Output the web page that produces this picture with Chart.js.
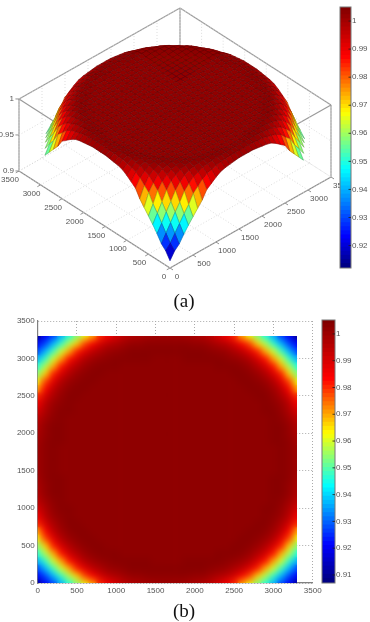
<!DOCTYPE html>
<html>
<head>
<meta charset="utf-8">
<title>Surface and map</title>
<script src="https://cdn.jsdelivr.net/npm/chart.js@4"></script>
<style>
    html, body { margin: 0; padding: 0; background: #fff; }
    body { position: relative; width: 370px; height: 622px; overflow: hidden; }
    canvas { position: absolute; filter: blur(0.35px); }
    #surface-chart { left: 0; top: 0; }
    #surface-bar { left: 320px; top: 0; }
    #map-chart { left: 0; top: 310px; }
    #map-bar { left: 315px; top: 310px; }
    .caption { position: absolute; width: 370px; left: -1px; text-align: center; font: 19px "Liberation Serif", serif; color: #111; }
</style>
</head>
<body>
<canvas id="surface-chart" width="370" height="295"></canvas>
<canvas id="surface-bar" width="50" height="295"></canvas>
<div class="caption" style="top:290px">(a)</div>
<canvas id="map-chart" width="322" height="290"></canvas>
<canvas id="map-bar" width="55" height="290"></canvas>
<div class="caption" style="top:600px">(b)</div>

<script>
// axis ticks
const axisTicks = [0, 500, 1000, 1500, 2000, 2500, 3000, 3500];
const heightTicks = [0.9, 0.95, 1];
const heightLabels = ['0.9', '0.95', '1'];
const surfaceBarTicks = [0.92, 0.93, 0.94, 0.95, 0.96, 0.97, 0.98, 0.99, 1];
const mapBarTicks = [0.91, 0.92, 0.93, 0.94, 0.95, 0.96, 0.97, 0.98, 0.99, 1];

// sample positions along one side, 0 to 3300
const gridSteps = [0, 100, 200, 300, 400, 500, 600, 700, 800, 900, 1000, 1100, 1200, 1300, 1400, 1500, 1600,
    1700, 1800, 1900, 2000, 2100, 2200, 2300, 2400, 2500, 2600, 2700, 2800, 2900, 3000, 3100, 3200, 3300];

// one quadrant of the field, in thousandths; the other three mirror it
const fieldRows = [
    [910, 920, 926, 936, 945, 953, 961, 969, 980, 985, 990, 994, 996, 997, 998, 999, 999],
    [920, 927, 937, 947, 957, 966, 978, 984, 991, 995, 997, 999, 1001, 1001, 1002, 1002, 1002],
    [926, 937, 948, 959, 969, 981, 988, 994, 997, 1000, 1001, 1002, 1003, 1003, 1003, 1003, 1003],
    [936, 947, 959, 970, 982, 990, 996, 999, 1001, 1002, 1003, 1003, 1003, 1003, 1003, 1002, 1002],
    [945, 957, 969, 982, 991, 996, 1000, 1002, 1003, 1003, 1003, 1002, 1002, 1002, 1002, 1002, 1002],
    [953, 966, 981, 990, 996, 1000, 1002, 1003, 1003, 1002, 1002, 1002, 1002, 1002, 1002, 1002, 1002],
    [961, 978, 988, 996, 1000, 1002, 1003, 1003, 1002, 1002, 1002, 1002, 1002, 1002, 1002, 1002, 1002],
    [969, 984, 994, 999, 1002, 1003, 1003, 1002, 1002, 1002, 1002, 1002, 1002, 1002, 1002, 1002, 1002],
    [980, 991, 997, 1001, 1003, 1003, 1002, 1002, 1002, 1002, 1002, 1002, 1002, 1002, 1002, 1002, 1002],
    [985, 995, 1000, 1002, 1003, 1002, 1002, 1002, 1002, 1002, 1002, 1002, 1002, 1002, 1002, 1002, 1002],
    [990, 997, 1001, 1003, 1003, 1002, 1002, 1002, 1002, 1002, 1002, 1002, 1002, 1002, 1002, 1002, 1002],
    [994, 999, 1002, 1003, 1002, 1002, 1002, 1002, 1002, 1002, 1002, 1002, 1002, 1002, 1002, 1002, 1002],
    [996, 1001, 1003, 1003, 1002, 1002, 1002, 1002, 1002, 1002, 1002, 1002, 1002, 1002, 1002, 1002, 1002],
    [997, 1001, 1003, 1003, 1002, 1002, 1002, 1002, 1002, 1002, 1002, 1002, 1002, 1002, 1002, 1002, 1002],
    [998, 1002, 1003, 1003, 1002, 1002, 1002, 1002, 1002, 1002, 1002, 1002, 1002, 1002, 1002, 1002, 1002],
    [999, 1002, 1003, 1002, 1002, 1002, 1002, 1002, 1002, 1002, 1002, 1002, 1002, 1002, 1002, 1002, 1002],
    [999, 1002, 1003, 1002, 1002, 1002, 1002, 1002, 1002, 1002, 1002, 1002, 1002, 1002, 1002, 1002, 1002]
];

// the surface stops short of its far left and right corners
const surfaceCut = 2960;

// colour scales: value at each stop, same colour list for both
const surfaceStops = [0.912, 0.923, 0.947, 0.967, 0.987, 1.005];
const mapStops = [0.907, 0.921, 0.943, 0.9625, 0.983, 1.005];
const stopColors = [[0, 0, 125], [0, 0, 255], [0, 255, 255], [255, 255, 0], [255, 0, 0], [125, 0, 0]];

const tickFont = { family: "'Liberation Sans Narrow', 'Liberation Sans', sans-serif", size: 8 };
const tickColor = '#555';

function fieldAt(i, j) {
    const n = gridSteps.length - 1;
    return fieldRows[Math.min(i, n - i)][Math.min(j, n - j)] / 1000;
}

function rgbFor(value, stops) {
    if (value <= stops[0]) return stopColors[0];
    for (let k = 1; k < stops.length; k++) {
        if (value <= stops[k]) {
            const t = (value - stops[k - 1]) / (stops[k] - stops[k - 1]);
            return stopColors[k].map((v, idx) => Math.round(stopColors[k - 1][idx] + (v - stopColors[k - 1][idx]) * t));
        }
    }
    return stopColors[stopColors.length - 1];
}

function colorFor(value, stops) {
    return `rgb(${rgbFor(value, stops).join(',')})`;
}

// fixed oblique view of the box
function project(x, y, z) {
    return {
        x: 170 + x * 161 / 3500 - y * 151 / 3500,
        y: 268 - x * 91 / 3500 - y * 97 / 3500 - (z - 0.9) * 720
    };
}

function segment(a, b, color, width, dash) {
    return {
        data: [project(a[0], a[1], a[2]), project(b[0], b[1], b[2])],
        showLine: true,
        fill: false,
        pointRadius: 0,
        borderColor: color,
        borderWidth: width,
        borderDash: dash || []
    };
}

function buildSurfaceDatasets() {
    const quads = [];
    const n = gridSteps.length - 1;
    for (let i = 0; i < n; i++) {
        for (let j = 0; j < n; j++) {
            const x0 = gridSteps[i], x1 = gridSteps[i + 1], y0 = gridSteps[j], y1 = gridSteps[j + 1];
            if (Math.abs(y1 - x0) > surfaceCut || Math.abs(x1 - y0) > surfaceCut) continue;
            const z00 = fieldAt(i, j), z10 = fieldAt(i + 1, j), z11 = fieldAt(i + 1, j + 1), z01 = fieldAt(i, j + 1);
            const mean = (z00 + z10 + z11 + z01) / 4;
            const edgeRgb = rgbFor(mean, surfaceStops).map(v => Math.round(v * 0.68));
            quads.push({
                depth: i + j,
                data: [project(x0, y0, z00), project(x1, y0, z10), project(x1, y1, z11), project(x0, y1, z01), project(x0, y0, z00)],
                showLine: true,
                fill: 'shape',
                tension: 0,
                pointRadius: 0,
                borderWidth: 0.6,
                borderColor: `rgb(${edgeRgb.join(',')})`,
                backgroundColor: colorFor(mean, surfaceStops)
            });
        }
    }
    // first dataset ends up on top, so nearest quads go first
    quads.sort((a, b) => a.depth - b.depth);

    const frame = [];
    const gridLine = '#d4d4d4';
    const edge = '#9a9a9a';
    axisTicks.forEach(t => {
        frame.push(segment([t, 0, 0.9], [t, 3500, 0.9], gridLine, 0.8, [1, 2]));
        frame.push(segment([0, t, 0.9], [3500, t, 0.9], gridLine, 0.8, [1, 2]));
        frame.push(segment([t, 3500, 0.9], [t, 3500, 1], gridLine, 0.8, [1, 2]));
        frame.push(segment([3500, t, 0.9], [3500, t, 1], gridLine, 0.8, [1, 2]));
        frame.push(segment([t, 0, 0.9], [t, -70, 0.9], '#777', 0.8));
        frame.push(segment([0, t, 0.9], [-70, t, 0.9], '#777', 0.8));
    });
    heightTicks.forEach(h => {
        frame.push(segment([0, 3500, h], [3500, 3500, h], gridLine, 0.8, [1, 2]));
        frame.push(segment([3500, 3500, h], [3500, 0, h], gridLine, 0.8, [1, 2]));
        frame.push(segment([0, 3500, h], [-40, 3540, h], '#777', 0.8));
    });
    frame.push(segment([0, 3500, 1], [3500, 3500, 1], edge, 1.2));
    frame.push(segment([3500, 3500, 1], [3500, 0, 1], edge, 1.2));
    frame.push(segment([0, 3500, 1], [0, 0, 1], edge, 1.2));
    frame.push(segment([0, 0, 1], [3500, 0, 1], edge, 1.2));
    frame.push(segment([0, 3500, 0.9], [0, 3500, 1], edge, 1.2));
    frame.push(segment([3500, 0, 0.9], [3500, 0, 1], edge, 1.2));
    frame.push(segment([3500, 3500, 0.9], [3500, 3500, 1], edge, 1.2));
    frame.push(segment([0, 0, 0.9], [0, 3500, 0.9], '#8a8a8a', 1.2));
    frame.push(segment([0, 0, 0.9], [3500, 0, 0.9], '#8a8a8a', 1.2));

    return quads.concat(frame);
}

const surfaceLabels = {
    id: 'surfaceLabels',
    afterDraw(chart) {
        const ctx = chart.ctx;
        const sx = chart.scales.x, sy = chart.scales.y;
        ctx.save();
        ctx.font = `${tickFont.size}px ${tickFont.family}`;
        ctx.fillStyle = tickColor;
        ctx.textBaseline = 'middle';
        ctx.textAlign = 'center';
        axisTicks.forEach(t => {
            const px = project(t, 0, 0.9);
            ctx.fillText(String(t), sx.getPixelForValue(px.x) + (t === 0 ? 7 : 11), sy.getPixelForValue(px.y) + 9);
            const py = project(0, t, 0.9);
            ctx.fillText(String(t), sx.getPixelForValue(py.x) - (t === 0 ? 6 : 9), sy.getPixelForValue(py.y) + 9);
        });
        ctx.textAlign = 'right';
        heightTicks.forEach((h, k) => {
            const p = project(0, 3500, h);
            ctx.fillText(heightLabels[k], sx.getPixelForValue(p.x) - 5, sy.getPixelForValue(p.y));
        });
        ctx.restore();
    }
};

function initSurfaceChart() {
    const canvas = document.getElementById('surface-chart');
    new Chart(canvas.getContext('2d'), {
        type: 'scatter',
        data: { datasets: buildSurfaceDatasets() },
        options: {
            responsive: false,
            animation: false,
            devicePixelRatio: 1,
            events: [],
            layout: { padding: 0 },
            scales: {
                x: { type: 'linear', display: false, min: 0, max: 370 },
                y: { type: 'linear', display: false, min: 0, max: 295, reverse: true }
            },
            plugins: { legend: { display: false }, tooltip: { enabled: false } }
        },
        plugins: [surfaceLabels]
    });
}

// smooths the cells a little, the picture has no visible cell edges
const mapSmoothing = {
    id: 'mapSmoothing',
    beforeDatasetsDraw(chart) {
        const { x, y } = chart.scales;
        const ctx = chart.ctx;
        const left = x.getPixelForValue(0), right = x.getPixelForValue(3300);
        const top = y.getPixelForValue(3300), bottom = y.getPixelForValue(0);
        ctx.save();
        ctx.beginPath();
        ctx.rect(left, top, right - left, bottom - top);
        ctx.clip();
    },
    afterDatasetsDraw(chart) {
        const { x, y } = chart.scales;
        const ctx = chart.ctx;
        const left = x.getPixelForValue(0), right = x.getPixelForValue(3300);
        const top = y.getPixelForValue(3300), bottom = y.getPixelForValue(0);
        ctx.filter = 'blur(2.5px)';
        ctx.drawImage(chart.canvas, left, top, right - left, bottom - top, left, top, right - left, bottom - top);
        ctx.drawImage(chart.canvas, left, top, right - left, bottom - top, left, top, right - left, bottom - top);
        ctx.filter = 'none';
        ctx.restore();
    }
};

function initMapChart() {
    const canvas = document.getElementById('map-chart');
    const points = [];
    const colors = [];
    gridSteps.forEach((gx, i) => {
        gridSteps.forEach((gy, j) => {
            const value = fieldAt(i, j);
            points.push({ x: gx, y: gy });
            colors.push(colorFor(value, mapStops));
        });
    });

    const axis = (extra) => Object.assign({
        type: 'linear',
        min: 0,
        max: 3500,
        grid: { color: '#aaaaaa', drawTicks: false },
        border: { color: '#808080', width: 1.2, dash: [1, 2] },
        ticks: {
            stepSize: 500,
            font: tickFont,
            color: tickColor,
            autoSkip: false,
            maxRotation: 0,
            padding: 3,
            callback: v => String(v)
        }
    }, extra);

    new Chart(canvas.getContext('2d'), {
        type: 'scatter',
        data: {
            datasets: [{
                data: points,
                pointStyle: 'rect',
                pointRadius: 5.8,
                pointBorderWidth: 0,
                backgroundColor: colors
            }]
        },
        options: {
            responsive: false,
            animation: false,
            devicePixelRatio: 1,
            events: [],
            layout: { padding: { left: 0, right: 9.3, top: 11, bottom: 0 } },
            scales: {
                x: axis({ afterFit(s) { s.height = 17; s.paddingLeft = 0; s.paddingRight = 0; } }),
                y: axis({ afterFit(s) { s.width = 37.7; s.paddingTop = 0; s.paddingBottom = 0; } })
            },
            plugins: { legend: { display: false }, tooltip: { enabled: false } }
        },
        plugins: [mapSmoothing]
    });
}

// outline and short inward ticks of a colour bar
const barFrame = {
    id: 'barFrame',
    afterDraw(chart) {
        const ctx = chart.ctx;
        const area = chart.chartArea;
        const scale = chart.scales.y;
        ctx.save();
        ctx.strokeStyle = '#777';
        ctx.lineWidth = 1;
        ctx.strokeRect(area.left, area.top, area.right - area.left, area.bottom - area.top);
        ctx.strokeStyle = 'rgba(30,30,30,0.8)';
        scale.ticks.forEach(t => {
            const py = scale.getPixelForValue(t.value);
            ctx.beginPath();
            ctx.moveTo(area.right - 2.5, py);
            ctx.lineTo(area.right, py);
            ctx.stroke();
        });
        ctx.restore();
    }
};

function initColorBar(id, low, high, stops, ticks, padding, axisWidth) {
    const canvas = document.getElementById(id);
    const levels = 64;
    const step = (high - low) / levels;
    const datasets = [];
    for (let k = 0; k < levels; k++) {
        const from = low + k * step;
        datasets.push({
            data: [[from, Math.min(high, from + step * 1.15)]],
            backgroundColor: colorFor(from + step / 2, stops),
            borderWidth: 0,
            barPercentage: 1,
            categoryPercentage: 1
        });
    }
    new Chart(canvas.getContext('2d'), {
        type: 'bar',
        data: { labels: [''], datasets: datasets },
        options: {
            responsive: false,
            animation: false,
            devicePixelRatio: 1,
            events: [],
            layout: { padding: padding },
            datasets: { bar: { grouped: false } },
            scales: {
                x: { display: false },
                y: {
                    type: 'linear',
                    position: 'right',
                    min: low,
                    max: high,
                    afterBuildTicks(s) { s.ticks = ticks.map(v => ({ value: v })); },
                    afterFit(s) { s.width = axisWidth; s.paddingTop = 0; s.paddingBottom = 0; },
                    grid: { drawOnChartArea: false, drawTicks: false },
                    border: { display: false },
                    ticks: {
                        font: tickFont,
                        color: tickColor,
                        padding: 1,
                        autoSkip: false,
                        callback: v => String(Math.round(v * 100) / 100)
                    }
                }
            },
            plugins: { legend: { display: false }, tooltip: { enabled: false } }
        },
        plugins: [barFrame]
    });
}

initSurfaceChart();
initColorBar('surface-bar', 0.912, 1.005, surfaceStops, surfaceBarTicks, { left: 20, top: 7, bottom: 27, right: 0 }, 19);
initMapChart();
initColorBar('map-bar', 0.907, 1.0052, mapStops, mapBarTicks, { left: 7, top: 10, bottom: 17, right: 0 }, 35);
</script>
</body>
</html>
